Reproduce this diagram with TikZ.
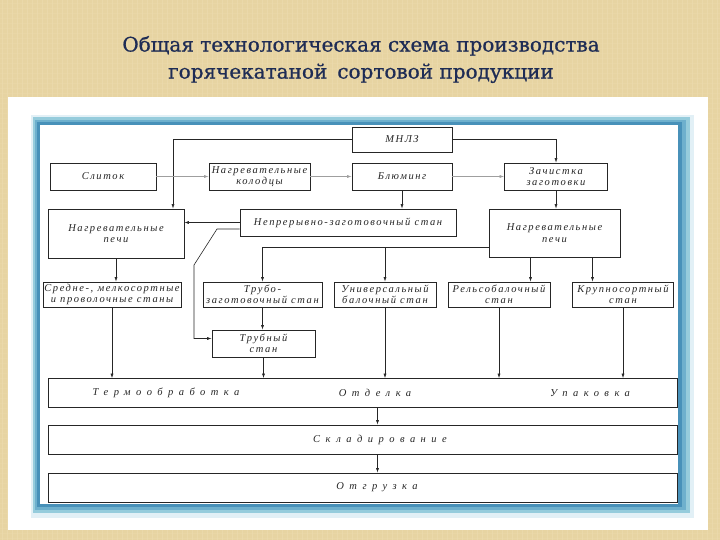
\documentclass[tikz,border=0pt]{standalone}
\usepackage{fontspec}
\setmainfont{Liberation Serif}
\newfontfamily\titlefont{DejaVu Serif}[FakeBold=0.8]
\newfontface\boxfont{Liberation Serif Italic}[LetterSpace=15]
\newfontface\wideboxfont{Liberation Serif Italic}[LetterSpace=52]
\usetikzlibrary{arrows.meta, positioning}

\definecolor{bgbeige}{RGB}{231,212,162}
\definecolor{bgline}{RGB}{236,219,174}
\definecolor{titleblue}{RGB}{30,44,85}
\definecolor{frameglow}{RGB}{226,240,246}
\definecolor{framea}{RGB}{150,204,220}
\definecolor{frameb}{RGB}{110,176,205}
\definecolor{framec}{RGB}{72,145,185}

\tikzset{%
   % plain process box, size is given per node
   blk/.style={
      draw=black!85,
      line width=.7pt,
      fill=white,
      inner sep=0pt,
      align=center,
      text=black!85,
      font=\boxfont\fontsize{10.5}{11.5}\selectfont
   },
   wide/.style={blk, minimum width=629pt, minimum height=29pt},
   wtext/.style={
      inner sep=0pt,
      text=black!85,
      font=\wideboxfont\fontsize{10.5}{12}\selectfont
   },
   flow/.style={
      draw=black!85,
      line width=.6pt,
      -{Latex[length=4.5pt, width=3pt]}
   },
   faint/.style={flow, draw=gray!75},
}

\begin{document}
\begin{tikzpicture}[x=1pt, y=-1pt]
\useasboundingbox (0,0) rectangle (720,540);
% background sheet
\fill[bgbeige] (0,0) rectangle (720,540);
\foreach \x in {2,7,...,720} \draw[bgline, line width=.5pt, opacity=.7] (\x,0) -- (\x,540);
\foreach \y in {3,8,...,540} \draw[bgline, line width=.4pt, opacity=.4] (0,\y) -- (720,\y);
\fill[white] (8,97) rectangle (708,530);
% blue frame
\fill[frameglow] (31,115) rectangle (694,518);
\fill[framea] (33,117) rectangle (690,513);
\fill[frameb] (35,120) rectangle (686,510);
\fill[framec] (37,122) rectangle (682,507);
\fill[white] (40,125) rectangle (678,504);

\node[font=\titlefont\fontsize{20}{27}\selectfont, text=titleblue, align=center]
   (title) at (361,59.5) {Общая технологическая схема производства\\горячекатаной\enspace сортовой продукции};

% top rows
\node[blk, minimum width=100pt, minimum height=25pt] (mnlz) at (402,139.5) {МНЛЗ};
\node[blk, minimum width=106pt, minimum height=27pt] (slitok) at (103,176.5) {Слиток};
\node[blk, minimum width=101pt, minimum height=27pt] (kolod) at (259.5,176.5) {Нагревательные\\колодцы};
\node[blk, minimum width=100pt, minimum height=27pt] (bluming) at (402,176.5) {Блюминг};
\node[blk, minimum width=103pt, minimum height=27pt] (zachist) at (556,176.5) {Зачистка\\заготовки};
\node[blk, minimum width=136pt, minimum height=49pt] (pechL) at (116,233.5) {Нагревательные\\печи};
\node[blk, minimum width=216pt, minimum height=27pt] (nzs) at (348,222.5) {Непрерывно-заготовочный стан};
\node[blk, minimum width=131pt, minimum height=48pt] (pechR) at (554.5,233) {Нагревательные\\печи};

% mills
\node[blk, minimum width=138pt, minimum height=25pt] (sredne) at (112,294.5) {Средне-, мелкосортные\\и проволочные станы};
\node[blk, minimum width=119pt, minimum height=25pt] (trubozag) at (262.5,294.5) {Трубо-\\заготовочный стан};
\node[blk, minimum width=102pt, minimum height=25pt] (univ) at (385,294.5) {Универсальный\\балочный стан};
\node[blk, minimum width=102pt, minimum height=25pt] (rels) at (499,294.5) {Рельсобалочный\\стан};
\node[blk, minimum width=101pt, minimum height=25pt] (krupn) at (623,294.5) {Крупносортный\\стан};
\node[blk, minimum width=103pt, minimum height=27pt] (trubny) at (263.5,343.5) {Трубный\\стан};

% finishing
\node[wide] (obrab) at (362.5,393) {};
\node[wide] (sklad) at (362.5,439.5) {};
\node[wide] (otgr) at (362.5,487.5) {};
\node[wtext] (termo) at (166,393) {Термообработка};
\node[wtext] (otdel) at (375,393) {Отделка};
\node[wtext] (upak) at (590,393) {Упаковка};
\node[wtext] (skladt) at (380,439.5) {Складирование};
\node[wtext] (otgrt) at (377,487.5) {Отгрузка};

\coordinate (bend1) at (217,229);
\coordinate (bend2) at (194,265);
\coordinate (bus) at ([yshift=-14pt]pechR.west);

\draw[flow] (mnlz.west) -| ([xshift=57pt]pechL.north);
\draw[flow] (mnlz.east) -| (zachist.north);
\draw[faint] (slitok) -- (kolod);
\draw[faint] (kolod) -- (bluming);
\draw[faint] (bluming) -- (zachist);
\draw[flow] (bluming.south) -- (bluming.south |- nzs.north);
\draw[flow] (zachist.south) -- (zachist.south |- pechR.north);
\draw[flow] (nzs.west) -- (nzs.west -| pechL.east);
\draw[flow] ([yshift=-6.5pt]nzs.west) -- (bend1) -- (bend2) |- ([yshift=5pt]trubny.west);
\draw[flow] (bus) -| (trubozag.north);
\draw[flow] (univ.north |- bus) -- (univ.north);
\draw[flow] ([xshift=-24pt]pechR.south) -- ([xshift=-24pt]pechR.south |- rels.north);
\draw[flow] ([xshift=38pt]pechR.south) -- ([xshift=38pt]pechR.south |- krupn.north);
\draw[flow] (pechL.south) -- (pechL.south |- sredne.north);
\draw[flow] (trubozag.south) -- (trubozag.south |- trubny.north);
\draw[flow] (trubny.south) -- (trubny.south |- obrab.north);
\draw[flow] (sredne.south) -- (sredne.south |- obrab.north);
\draw[flow] (univ.south) -- (univ.south |- obrab.north);
\draw[flow] (rels.south) -- (rels.south |- obrab.north);
\draw[flow] (krupn.south) -- (krupn.south |- obrab.north);
\draw[flow] ([xshift=15pt]obrab.south) -- ([xshift=15pt]sklad.north);
\draw[flow] ([xshift=15pt]sklad.south) -- ([xshift=15pt]otgr.north);
\end{tikzpicture}
\end{document}
